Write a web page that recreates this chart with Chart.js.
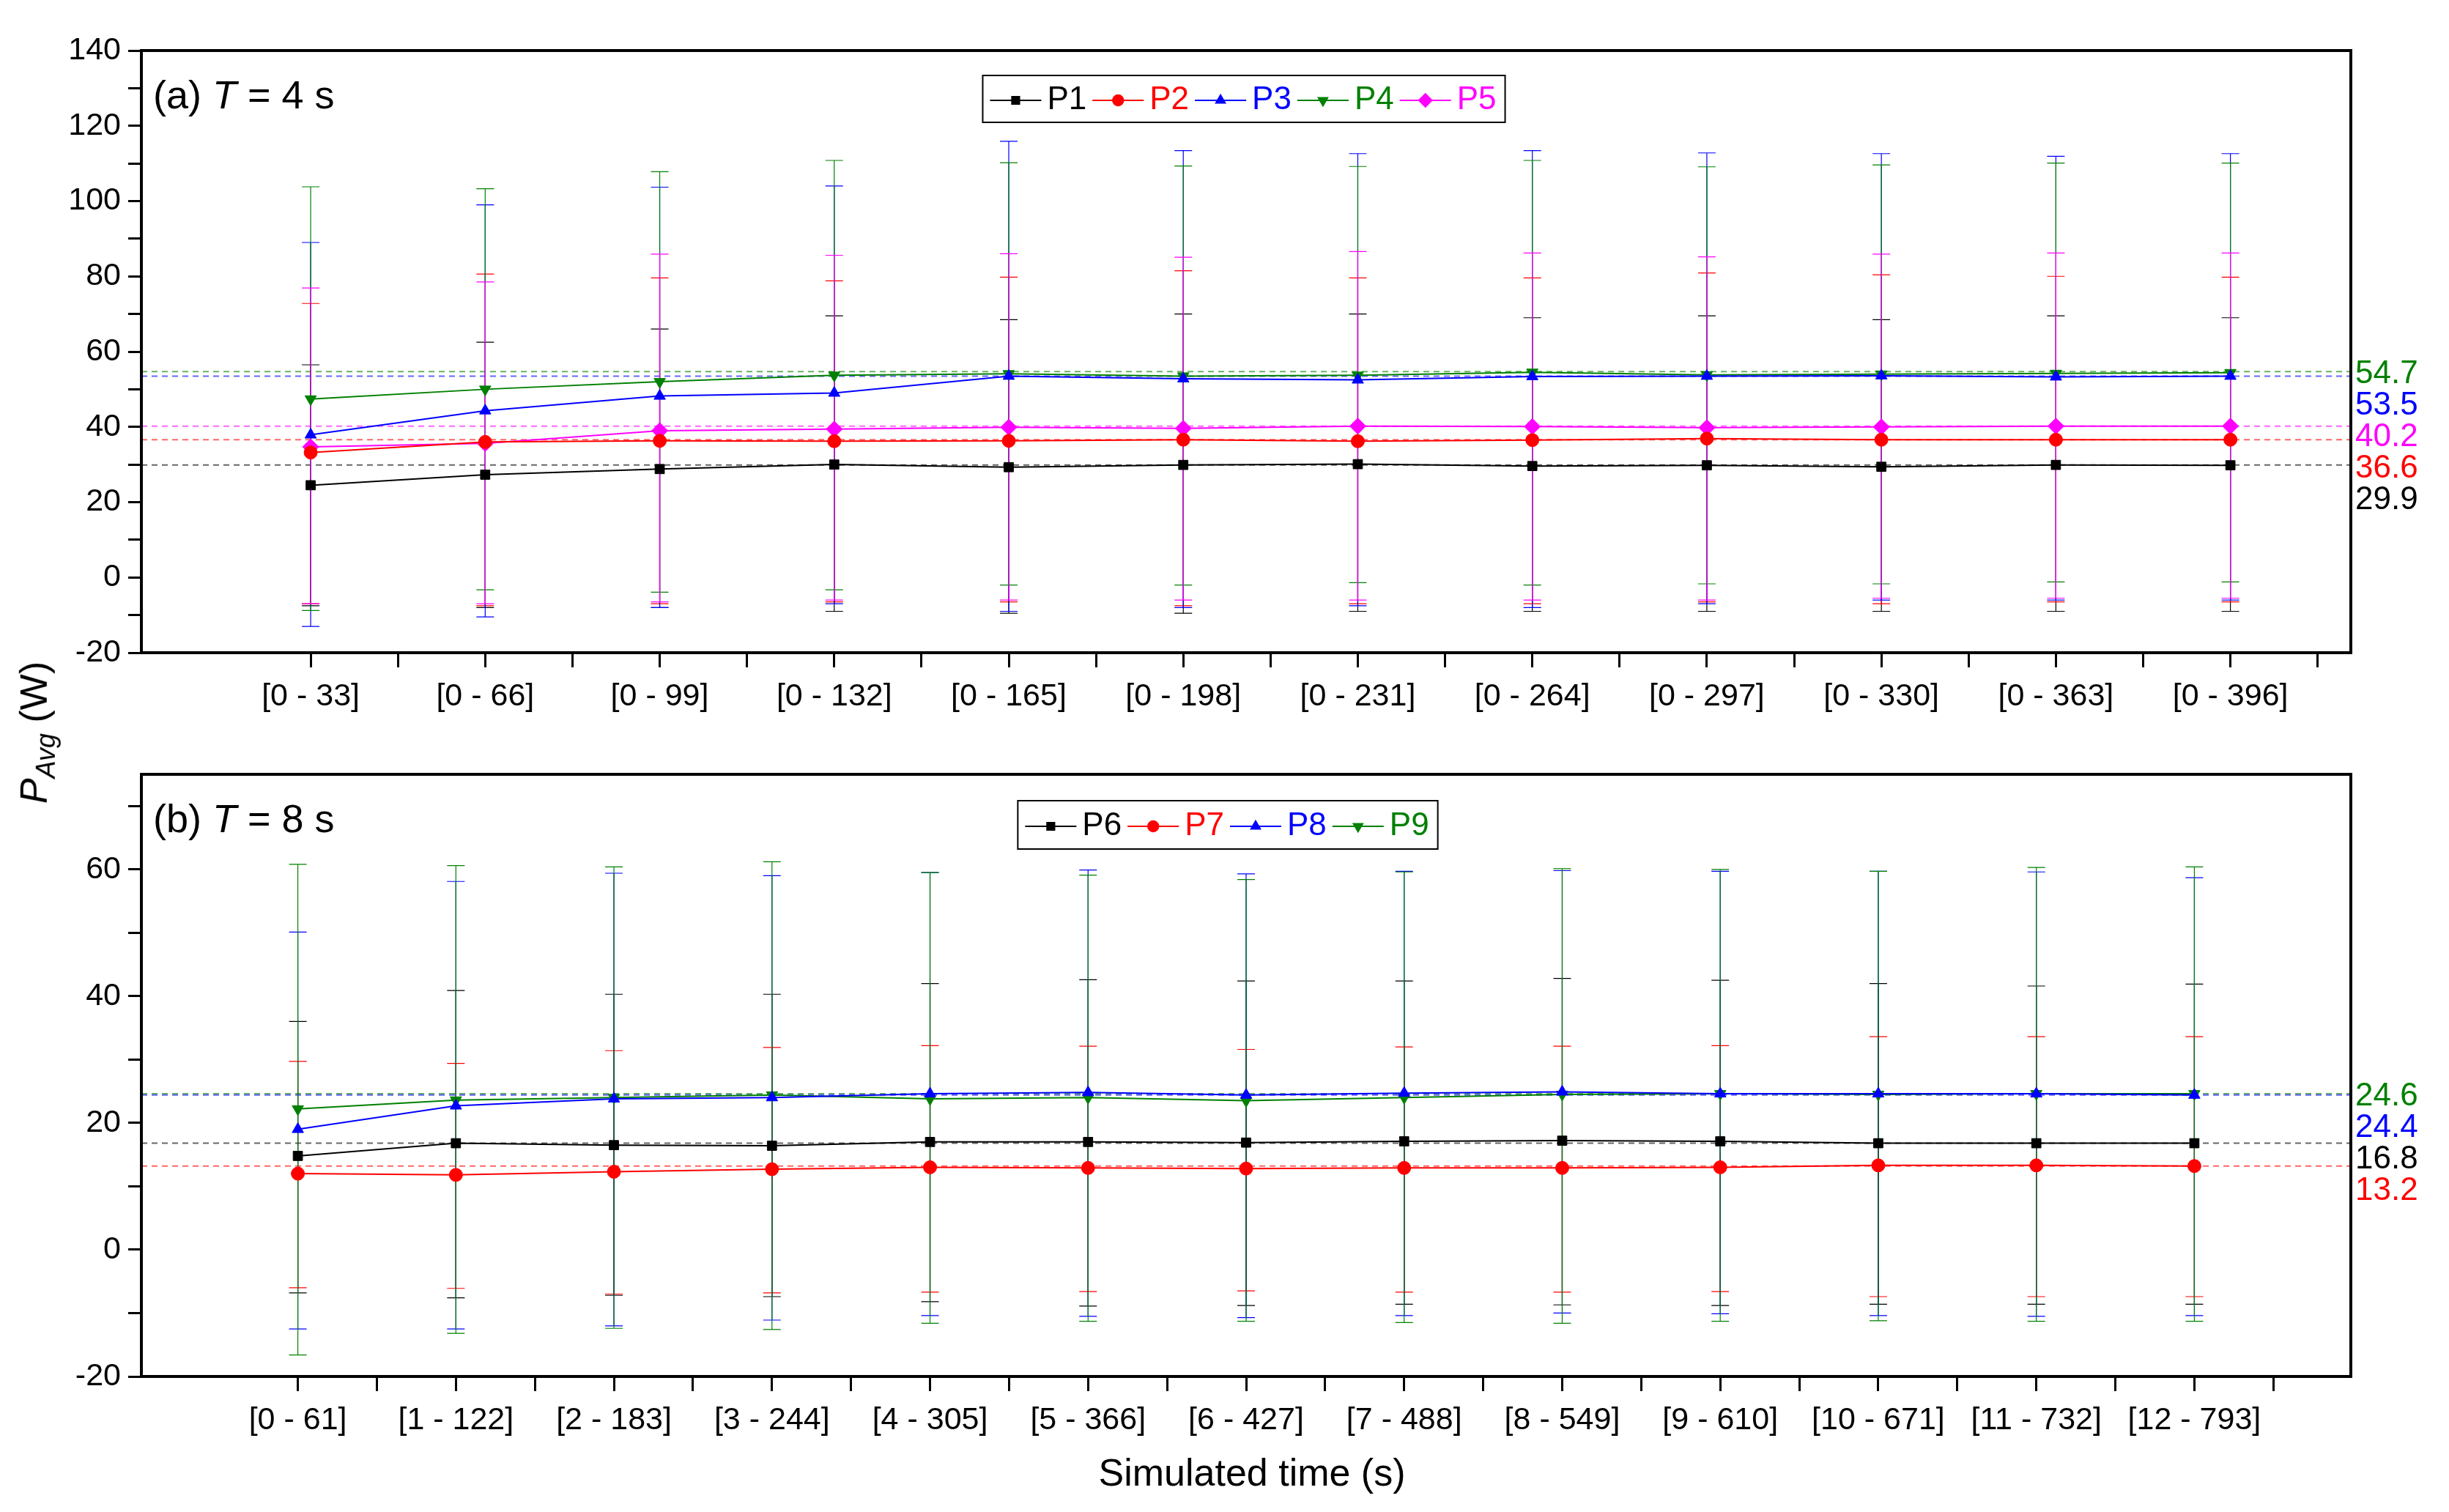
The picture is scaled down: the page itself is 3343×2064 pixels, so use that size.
<!DOCTYPE html>
<html>
<head>
<meta charset="utf-8">
<script src="https://cdn.jsdelivr.net/npm/chart.js@4.4.1/dist/chart.umd.min.js"></script>
<style>
  body { margin: 0; background: #fff; width: 3343px; height: 2064px; position: relative; overflow: hidden; font-family: "Liberation Sans", Arial, sans-serif; }
  canvas { position: absolute; left: 0; }
  #ytitle { position: absolute; left: 50px; top: 1000px; transform: translate(-50%, -50%) rotate(-90deg); font-size: 52px; white-space: nowrap; }
  #xtitle { position: absolute; left: 1709px; top: 2010px; transform: translate(-50%, -50%); font-size: 52px; white-space: nowrap; }
</style>
</head>
<body>
<canvas id="top" width="3343" height="1010" style="top:0;width:3343px;height:1010px"></canvas>
<canvas id="bot" width="3343" height="1074" style="top:990px;width:3343px;height:1074px"></canvas>
<div id="ytitle"><i>P</i><sub style="font-size:36px"><i>Avg</i></sub> (W)</div>
<div id="xtitle">Simulated time (s)</div>
<script>
'use strict';

// Panel (a) T = 4 s
const labelsA = ['[0 - 33]', '[0 - 66]', '[0 - 99]', '[0 - 132]', '[0 - 165]', '[0 - 198]', '[0 - 231]', '[0 - 264]', '[0 - 297]', '[0 - 330]', '[0 - 363]', '[0 - 396]'];
const p1 = [24.5, 27.3, 28.8, 30.0, 29.3, 29.9, 30.1, 29.6, 29.8, 29.4, 29.9, 29.8];
const p1Hi = [56.5, 62.5, 66, 69.5, 68.5, 70, 70, 69, 69.5, 68.5, 69.5, 69];
const p1Lo = [-7.5, -8, -8, -9, -9.5, -9.5, -9, -9, -9, -9, -9, -9];
const p2 = [33.2, 36.0, 36.3, 36.2, 36.3, 36.6, 36.2, 36.5, 36.9, 36.6, 36.6, 36.6];
const p2Hi = [72.8, 80.6, 79.6, 78.8, 79.8, 81.5, 79.6, 79.6, 80.9, 80.4, 80, 79.8];
const p2Lo = [-7, -7.5, -7, -6.5, -6.5, -7.5, -7, -7, -6.5, -7, -6.5, -6.5];
const p3 = [37.9, 44.3, 48.2, 49.0, 53.5, 52.8, 52.5, 53.4, 53.5, 53.6, 53.3, 53.5];
const p3Hi = [89, 99, 103.7, 104, 115.9, 113.4, 112.6, 113.4, 112.8, 112.6, 111.9, 112.6];
const p3Lo = [-13, -10.5, -8, -7, -9, -8, -7.5, -8, -7, -6, -6, -6];
const p4 = [47.4, 50.0, 52.0, 53.7, 54.1, 53.5, 53.7, 54.5, 53.8, 54.0, 54.2, 54.4];
const p4Hi = [103.8, 103.3, 107.8, 110.8, 110.2, 109.3, 109.2, 110.8, 109.1, 109.6, 110.1, 110.1];
const p4Lo = [-8.8, -3.3, -3.9, -3.3, -2, -2, -1.4, -2, -1.7, -1.7, -1.2, -1.2];
const p5 = [34.7, 35.6, 39.0, 39.4, 39.9, 39.6, 40.2, 40.1, 39.8, 40.0, 40.2, 40.2];
const p5Hi = [76.9, 78.5, 85.9, 85.6, 86, 85.1, 86.6, 86.2, 85.2, 85.9, 86.2, 86.2];
const p5Lo = [-7, -7, -6.5, -6, -6, -6, -6, -6, -6, -5.5, -5.5, -5.5];
const avgA = [54.7, 53.5, 40.2, 36.6, 29.9];
const avgColorsA = ['#008000', '#0000ff', '#ff00ff', '#ff0000', '#000000'];

// Panel (b) T = 8 s
const labelsB = ['[0 - 61]', '[1 - 122]', '[2 - 183]', '[3 - 244]', '[4 - 305]', '[5 - 366]', '[6 - 427]', '[7 - 488]', '[8 - 549]', '[9 - 610]', '[10 - 671]', '[11 - 732]', '[12 - 793]'];
const p6 = [14.8, 16.8, 16.5, 16.4, 17.0, 17.0, 16.9, 17.1, 17.2, 17.1, 16.8, 16.8, 16.8];
const p6Hi = [36, 40.9, 40.3, 40.3, 42, 42.6, 42.4, 42.4, 42.8, 42.5, 42, 41.6, 41.9];
const p6Lo = [-6.8, -7.6, -7.2, -7.4, -8.2, -8.9, -8.8, -8.6, -8.7, -8.8, -8.6, -8.6, -8.6];
const p7 = [12.0, 11.8, 12.3, 12.7, 13.0, 12.9, 12.8, 12.9, 12.9, 13.0, 13.3, 13.3, 13.2];
const p7Hi = [29.7, 29.4, 31.4, 31.9, 32.2, 32.1, 31.6, 32.0, 32.1, 32.2, 33.6, 33.6, 33.6];
const p7Lo = [-6, -6.1, -7, -6.8, -6.7, -6.6, -6.5, -6.7, -6.7, -6.6, -7.4, -7.4, -7.4];
const p8 = [19.0, 22.7, 23.8, 24.0, 24.6, 24.8, 24.4, 24.7, 24.9, 24.6, 24.6, 24.6, 24.4];
const p8Hi = [50.1, 58.1, 59.4, 59, 59.5, 59.9, 59.3, 59.7, 59.8, 59.7, 59.7, 59.6, 58.7];
const p8Lo = [-12.5, -12.5, -12, -11.1, -10.4, -10.5, -10.7, -10.4, -10, -10.1, -10.4, -10.5, -10.4];
const p9 = [22.2, 23.6, 24.0, 24.4, 23.8, 24.0, 23.5, 24.0, 24.5, 24.6, 24.5, 24.6, 24.6];
const p9Hi = [60.8, 60.6, 60.4, 61.2, 59.5, 59.1, 58.4, 59.6, 60.1, 60.0, 59.7, 60.3, 60.4];
const p9Lo = [-16.6, -13.2, -12.4, -12.6, -11.6, -11.3, -11.3, -11.5, -11.6, -11.3, -11.2, -11.3, -11.3];
const avgB = [24.6, 24.4, 16.8, 13.2];
const avgColorsB = ['#008000', '#0000ff', '#000000', '#ff0000'];

const FONT = '"Liberation Sans", Arial, sans-serif';

function series(name, vals, hi, lo, color, style, rot) {
    return {
        label: name,
        data: vals.map((v, i) => ({ x: i, y: v })),
        errHi: hi,
        errLo: lo,
        showLine: true,
        borderColor: color,
        backgroundColor: color,
        borderWidth: 2,
        pointStyle: style,
        rotation: rot || 0,
        pointRadius: style === 'rectRot' ? 11 : 9,
        pointBorderWidth: 1
    };
}

// Error bars, dashed average lines, frame, panel label and legend
const extras = {
    id: 'extras',
    beforeDatasetsDraw(chart) {
        const ctx = chart.ctx;
        const xs = chart.scales.x, ys = chart.scales.y;
        const area = chart.chartArea;
        const o = chart.options.plugins.extras;
        ctx.save();
        // average lines
        ctx.setLineDash([8, 6]);
        ctx.lineWidth = 2;
        o.avg.forEach((v, i) => {
            ctx.strokeStyle = o.avgColors[i];
            ctx.globalAlpha = 0.6;
            const y = ys.getPixelForValue(v);
            ctx.beginPath(); ctx.moveTo(area.left, y); ctx.lineTo(area.right, y); ctx.stroke();
        });
        ctx.globalAlpha = 1;
        ctx.setLineDash([]);
        // error bars
        chart.data.datasets.forEach(ds => {
            ctx.strokeStyle = ds.borderColor;
            ctx.lineWidth = 1.2;
            ds.data.forEach((p, i) => {
                const x = xs.getPixelForValue(p.x);
                const yh = ys.getPixelForValue(ds.errHi[i]);
                const yl = ys.getPixelForValue(ds.errLo[i]);
                ctx.beginPath();
                ctx.moveTo(x, yh); ctx.lineTo(x, yl);
                ctx.moveTo(x - 12, yh); ctx.lineTo(x + 12, yh);
                ctx.moveTo(x - 12, yl); ctx.lineTo(x + 12, yl);
                ctx.stroke();
            });
        });
        ctx.restore();
    },
    afterDraw(chart) {
        const ctx = chart.ctx;
        const ys = chart.scales.y;
        const area = chart.chartArea;
        const o = chart.options.plugins.extras;
        ctx.save();
        // frame
        ctx.strokeStyle = '#000';
        ctx.lineWidth = 4;
        ctx.strokeRect(area.left, area.top, area.right - area.left, area.bottom - area.top);
        // right-side average labels, stacked without overlap
        ctx.font = '44px ' + FONT;
        ctx.textBaseline = 'middle';
        ctx.textAlign = 'left';
        let last = -1e9;
        o.avg.forEach((v, i) => {
            let y = Math.max(ys.getPixelForValue(v) + 4, last + 43);
            last = y;
            ctx.fillStyle = o.avgColors[i];
            ctx.fillText(v.toFixed(1), area.right + 6, y);
        });
        // panel label
        ctx.fillStyle = '#000';
        let x = area.left + 16, y = area.top + 64;
        const parts = [['(' + o.tag + ') ', ''], ['T', 'italic '], [' = ' + o.period + ' s', '']];
        parts.forEach(([t, st]) => {
            ctx.font = st + '54px ' + FONT;
            ctx.fillText(t, x, y);
            x += ctx.measureText(t).width;
        });
        // legend box, sized to its content
        const lg = o.legend;
        ctx.font = '44px ' + FONT;
        let lw = 14;
        chart.data.datasets.forEach(ds => { lw += 80 + ctx.measureText(ds.label).width + 6; });
        const lx0 = lg.cx - lw / 2;
        ctx.lineWidth = 2;
        ctx.strokeStyle = '#000';
        ctx.strokeRect(lx0, lg.y, lw, lg.h);
        let lx = lx0 + 10;
        const ly = lg.y + lg.h / 2 + 2;
        chart.data.datasets.forEach(ds => {
            ctx.strokeStyle = ds.borderColor;
            ctx.fillStyle = ds.borderColor;
            ctx.lineWidth = 2;
            ctx.beginPath(); ctx.moveTo(lx, ly); ctx.lineTo(lx + 70, ly); ctx.stroke();
            Chart.helpers.drawPoint(ctx, {
                pointStyle: ds.pointStyle, rotation: ds.rotation, radius: ds.pointRadius * 0.8, borderWidth: 1
            }, lx + 35, ly);
            ctx.fillStyle = ds.borderColor;
            ctx.fillText(ds.label, lx + 78, ly);
            lx += 80 + ctx.measureText(ds.label).width + 6;
        });
        ctx.restore();
    }
};

function makeChart(id, labels, sets, yMin, yMax, yMajor, xMin, xMax, xAxisH, extra) {
    const yTicks = [];
    for (let v = yMin; v <= yMax + 1e-9; v += yMajor / 2) yTicks.push({ value: v });
    const xTicks = [];
    for (let v = 0; v <= xMax + 1e-9; v += 0.5) xTicks.push({ value: v });
    return new Chart(document.getElementById(id), {
        type: 'scatter',
        data: { datasets: sets },
        plugins: [extras],
        options: {
            responsive: false,
            animation: false,
            devicePixelRatio: 1,
            layout: { padding: { top: extra.padTop, right: 134, left: 0, bottom: 0 } },
            plugins: {
                legend: { display: false },
                tooltip: { enabled: false },
                extras: extra
            },
            scales: {
                x: {
                    type: 'linear', min: xMin, max: xMax,
                    afterBuildTicks: s => { s.ticks = xTicks.map(t => ({ value: t.value })); },
                    afterFit: s => { s.height = xAxisH; },
                    grid: { drawOnChartArea: false, tickLength: 20, lineWidth: 3, color: '#000' },
                    border: { display: false },
                    ticks: {
                        autoSkip: false, maxRotation: 0, padding: 14, color: '#000',
                        font: { family: FONT, size: 43 },
                        callback: v => Number.isInteger(v) && labels[v] ? labels[v] : ''
                    }
                },
                y: {
                    min: yMin, max: yMax,
                    afterBuildTicks: s => { s.ticks = yTicks.map(t => ({ value: t.value })); },
                    afterFit: s => { s.width = 193; },
                    grid: { drawOnChartArea: false, tickLength: 18, lineWidth: 3, color: '#000' },
                    border: { display: false },
                    ticks: {
                        autoSkip: false, padding: 10, color: '#000',
                        font: { family: FONT, size: 43 },
                        callback: v => (Math.round(v) % yMajor === 0) ? String(v) : ''
                    }
                }
            }
        }
    });
}

makeChart('top', labelsA, [
    series('P1', p1, p1Hi, p1Lo, '#000000', 'rect'),
    series('P2', p2, p2Hi, p2Lo, '#ff0000', 'circle'),
    series('P3', p3, p3Hi, p3Lo, '#0000ff', 'triangle'),
    series('P4', p4, p4Hi, p4Lo, '#008000', 'triangle', 180),
    series('P5', p5, p5Hi, p5Lo, '#ff00ff', 'rectRot')
], -20, 140, 20, -0.97, 11.69, 119, {
    padTop: 69, avg: avgA, avgColors: avgColorsA, tag: 'a', period: 4,
    legend: { cx: 1698, y: 103, h: 64 }
});

makeChart('bot', labelsB, [
    series('P6', p6, p6Hi, p6Lo, '#000000', 'rect'),
    series('P7', p7, p7Hi, p7Lo, '#ff0000', 'circle'),
    series('P8', p8, p8Hi, p8Lo, '#0000ff', 'triangle'),
    series('P9', p9, p9Hi, p9Lo, '#008000', 'triangle', 180)
], -20, 75, 20, -0.99, 12.99, 185, {
    padTop: 67, avg: avgB, avgColors: avgColorsB, tag: 'b', period: 8,
    legend: { cx: 1676, y: 103, h: 66 }
});
</script>
</body>
</html>
